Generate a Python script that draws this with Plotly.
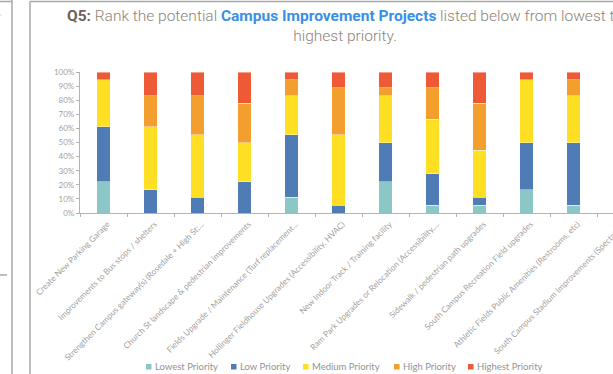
import plotly.graph_objects as go

# Survey projects (x categories)
projects = [
    "Create New Parking Garage",
    "Improvements to Bus stops / shelters",
    "Strengthen Campus gateway(s) (Rosedale + High St;...",
    "Church St landscape & pedestrian improvements",
    "Fields Upgrade / Maintenance (Turf replacement...",
    "Hollinger Fieldhouse Upgrades (Accessibility, HVAC)",
    "New Indoor Track / Training facility",
    "Ram Park Upgrades or Relocation (Accessibility,...",
    "Sidewalk / pedestrian path upgrades",
    "South Campus Recreation Field upgrades",
    "Athletic Fields Public Amenities (Restrooms, etc)",
    "South Campus Stadium Improvements (Spectator...",
]

# Number of respondents choosing each priority level, per project
lowest = [4, 0, 0, 0, 2, 0, 4, 1, 1, 3, 1, None]
low = [7, 3, 2, 4, 8, 1, 5, 4, 1, 6, 8, None]
medium = [6, 8, 8, 5, 5, 9, 6, 7, 6, 8, 6, None]
high = [0, 4, 5, 5, 2, 6, 1, 4, 6, 0, 2, None]
highest = [1, 3, 3, 4, 1, 2, 2, 2, 4, 1, 1, None]

series_names = ["Lowest Priority", "Low Priority", "Medium Priority",
                "High Priority", "Highest Priority"]
series_values = [lowest, low, medium, high, highest]
series_colors = ["#8cc7c8", "#4f7cb5", "#ffdf24", "#f29f2e", "#ee5a36"]

# Pixel geometry of the plotting area
W, H = 660, 374
ML, MR, MT, MB = 80, 16, 72, 161
PW = W - ML - MR
PH = H - MT - MB


def px(x):
    return (x - ML) / PW


def py(y):
    return (H - MB - y) / PH


fig = go.Figure()
for name, vals, col in zip(series_names, series_values, series_colors):
    fig.add_trace(go.Bar(
        x=projects, y=vals, name=name,
        marker=dict(color=col, line=dict(color="rgba(255,255,255,0.7)", width=0.6)),
        showlegend=False,
    ))

axis_grey = "#b3b3b3"

fig.update_layout(
    width=W, height=H,
    margin=dict(l=ML, r=MR, t=MT, b=MB, pad=0),
    barmode="stack", barnorm="percent", bargap=0.715,
    paper_bgcolor="white", plot_bgcolor="white",
    xaxis=dict(
        categoryorder="array", categoryarray=projects,
        range=[-0.5, len(projects) - 0.5],
        showline=True, linecolor=axis_grey, linewidth=1.3,
        ticks="outside", tickson="boundaries", ticklen=3, tickcolor=axis_grey,
        tickangle=-45, ticklabelshift=4, ticklabelstandoff=2,
        tickfont=dict(family="Lato", size=8.3, color="#9f9f9f"),
        showgrid=False, automargin=False,
    ),
    yaxis=dict(
        range=[0, 100], dtick=10, ticksuffix="%",
        showline=True, linecolor=axis_grey, linewidth=1.3,
        ticks="outside", ticklen=3, tickcolor=axis_grey,
        tickfont=dict(family="Lato", size=8, color="#9f9f9f"),
        showgrid=False, zeroline=False, automargin=False,
    ),
)

# Title
fig.add_annotation(
    xref="paper", yref="paper", x=px(345), y=py(4.5), xanchor="center", yanchor="top",
    showarrow=False, align="center",
    text=("<b><span style='color:#6f6253'>Q5:</span></b> Rank the potential "
          "<b><span style='color:#3b8fe6'>Campus Improvement Projects</span></b>"
          " listed below from lowest to<br>highest priority."),
    font=dict(family="Roboto", size=15.5, color="#8d8479", weight=300),
)

# Legend: colour swatches with labels
legend_left = [146, 231, 303, 394, 468]
for name, col, x0 in zip(series_names, series_colors, legend_left):
    fig.add_shape(type="rect", xref="paper", yref="paper",
                  x0=px(x0), x1=px(x0 + 5.5), y0=py(369.5), y1=py(364),
                  fillcolor=col, line=dict(width=0))
    fig.add_annotation(xref="paper", yref="paper", x=px(x0 + 6.5), y=py(366.5),
                       xanchor="left", yanchor="middle", showarrow=False,
                       text=name, font=dict(family="Lato", size=9.5, color="#939393"))

# Panel frames
frame = dict(color="#a8a8a8", width=1.5)
frame_lines = [
    (12, -5, 12, 1.5),
    (-5, 1.5, 12, 1.5),
    (30, 1.5, 30, 390),
    (30, 1.5, 700, 1.5),
    (12, 1.5, 12, 390),
    (-2, 275, 7, 275),
]
for x0, y0, x1, y1 in frame_lines:
    fig.add_shape(type="line", xref="paper", yref="paper",
                  x0=px(x0), y0=py(y0), x1=px(x1), y1=py(y1), line=frame)

# Faint edge mark in the neighbouring panel
fig.add_shape(type="line", xref="paper", yref="paper",
              x0=px(-2), y0=py(15), x1=px(1.5), y1=py(15),
              line=dict(color="#d0d0d0", width=1))

fig.write_html(
    "out.html",
    post_script="document.documentElement.style.overflow='hidden';"
                "document.body.style.overflow='hidden';",
)
